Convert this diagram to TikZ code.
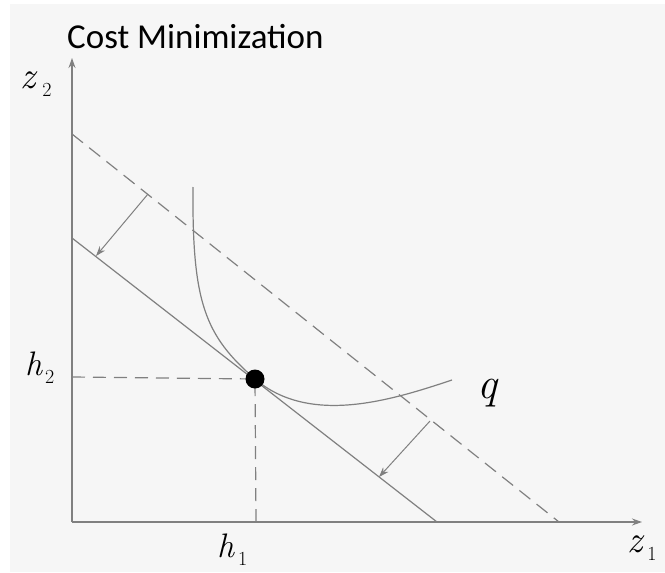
\documentclass[tikz,border=0pt]{standalone}
\usepackage{fontspec}
\newfontfamily\titlefont{Carlito}
\usetikzlibrary{arrows.meta}
\definecolor{bgc}{HTML}{F6F6F6}
\definecolor{ln}{HTML}{808080}
\newcommand{\lbl}[4]{{\fontsize{#3}{#3}\selectfont\itshape #1}\kern#4\raisebox{-8pt}{\fontsize{20}{20}\selectfont #2}}
\begin{document}
\begin{tikzpicture}[x=1pt,y=-1pt,
  axis/.style={draw=ln,line width=1.3pt,-{Stealth[length=10pt,width=7pt]}},
  budget/.style={draw=ln,line width=1.2pt},
  dashline/.style={draw=ln,line width=1.2pt,dash pattern=on 14pt off 8pt},
  guide/.style={draw=ln,line width=1.2pt,dash pattern=on 13pt off 8pt},
  shiftarrow/.style={draw=ln,line width=1pt,-{Stealth[length=10pt,width=7pt]}},
  lab/.style={inner sep=0pt,anchor=base west}]
\useasboundingbox (0,0) rectangle (665,573);
\fill[white] (0,0) rectangle (665,573);
\fill[bgc] (10,4) rectangle (665,572);
% coordinates
\coordinate (O) at (72,522);
\coordinate (Ytop) at (72,58);
\coordinate (Xend) at (642,522);
\coordinate (D1) at (72,134);
\coordinate (D2) at (559,522);
\coordinate (S1) at (72,238);
\coordinate (S2) at (437,522);
\coordinate (P) at (255,379);
\coordinate (Ph) at (72,377);
\coordinate (Pv) at (256,522);
\coordinate (Q0) at (193,187);
\coordinate (Q1) at (452,380);
\coordinate (A1s) at (148,194);
\coordinate (A1e) at (96,256);
\coordinate (A2s) at (430,421);
\coordinate (A2e) at (379,477);
% title
\node[lab] (title) at (67,48) {\titlefont\fontsize{35}{35}\selectfont Cost Minimization};
% axes
\draw[axis] (O) -- (Ytop);
\draw[axis] (O) -- (Xend);
% lines
\draw[dashline] (D1) -- (D2);
\draw[budget] (S1) -- (S2);
% guides
\draw[guide] (Ph) -- (P);
\draw[guide] (Pv) -- (P);
% isoquant
\draw[budget] (Q0) .. controls (192,303) and (205,335.5) .. (P)
  .. controls (310,426) and (392,400) .. (Q1);
% shift arrows
\draw[shiftarrow] (A1s) -- (A1e);
\draw[shiftarrow] (A2s) -- (A2e);
% point
\fill[black] (P) circle (9.5);
% labels
\node[lab] (z2) at (20,88) {\lbl{z}{2}{38}{7pt}};
\node[lab] (z1) at (627,552) {\lbl{z}{1}{38}{5pt}};
\node[lab] (h2) at (25,375) {\lbl{h}{2}{34}{3pt}};
\node[lab] (h1) at (217,557) {\lbl{h}{1}{34}{4pt}};
\node[lab] (q) at (477,398) {\fontsize{44}{44}\selectfont\itshape q};
\end{tikzpicture}
\end{document}
